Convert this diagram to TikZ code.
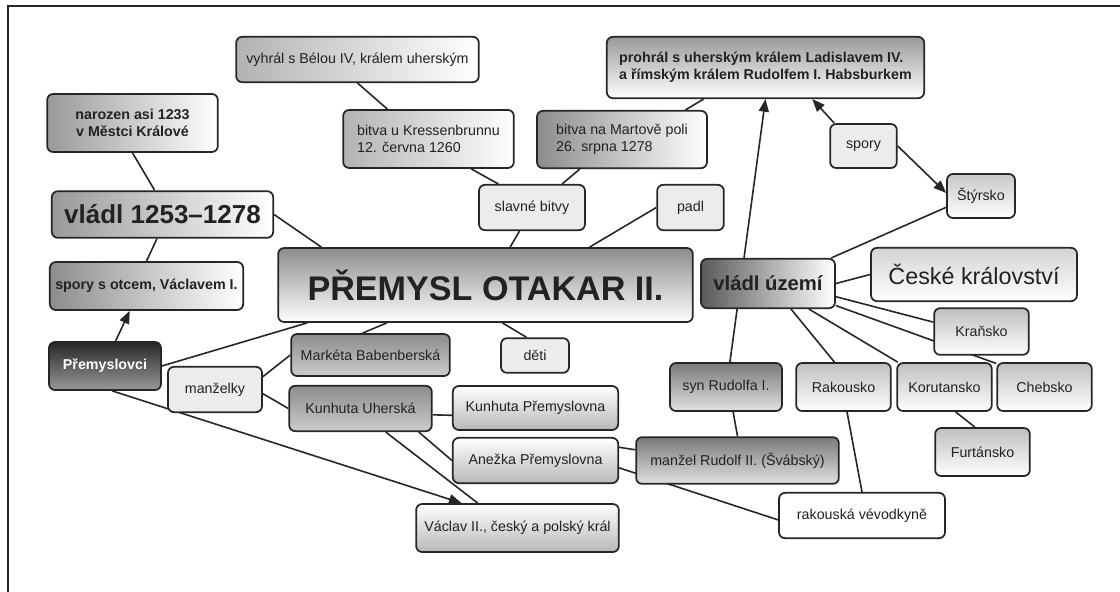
\documentclass[tikz,border=0pt]{standalone}
\usepackage{fontspec}
\setmainfont{Liberation Sans}
\usetikzlibrary{arrows.meta,backgrounds}
\definecolor{boxline}{HTML}{262626}
\definecolor{flatfill}{HTML}{ECECEC}
\definecolor{ink}{HTML}{222222}

\begin{document}
\begin{tikzpicture}[x=.75pt,y=-.75pt,
    box/.style={draw=boxline,line width=1.3pt,rounded corners=4.5pt,text=ink,inner sep=2pt,
                font=\fontsize{10.7}{12.8}\selectfont},
    flat/.style={fill=flatfill},
    lr/.style={left color=#1,right color=white},
    tb/.style={top color=#1,bottom color=white},
    bt/.style={top color=white,bottom color=#1},
    link/.style={draw=boxline,line width=1.2pt},
    arr/.style={link,-{Triangle[length=9.5pt,width=7.5pt]}}]

	\useasboundingbox (0,0) rectangle (1120,592);
	\draw[boxline,line width=1pt] (8,592) |- (1120,6);

	% left column
	\node (narozen) at (132.5,123) [box,lr=black!40,minimum width=128pt,minimum height=43.5pt,
	    align=center,font=\fontsize{10.7}{12.8}\selectfont\bfseries] {narozen asi 1233\\ v Městci Králové};
	\node (vladl) at (162.5,214.5) [box,lr=black!40,minimum width=166pt,minimum height=35pt,
	    font=\fontsize{19.5}{22}\selectfont\bfseries] {vládl 1253–1278};
	\node (sporyotec) at (146.5,286) [box,lr=black!45,minimum width=145pt,minimum height=36pt,
	    font=\fontsize{10.7}{12.8}\selectfont\bfseries] {spory s otcem, Václavem I.};
	\node (premyslovci) at (105,366) [box,top color=black!85,bottom color=black!40,text=white,
	    minimum width=84pt,minimum height=36pt,font=\fontsize{10.7}{12.8}\selectfont\bfseries] {Přemyslovci};
	\node (manzelky) at (215,389.5) [box,flat,minimum width=70.5pt,minimum height=34pt] {manželky};

	% battles
	\node (vyhral) at (357.5,59.5) [box,lr=black!30,minimum width=182pt,minimum height=34pt] {vyhrál s Bélou IV, králem uherským};
	\node (kressen) at (428.5,139) [box,lr=black!30,minimum width=128pt,minimum height=43.5pt,
	    align=left] {bitva u Kressenbrunnu\\ 12. června 1260};
	\node (marchfeld) at (622,139.5) [box,lr=black!45,minimum width=127.5pt,minimum height=43pt,
	    align=left] {bitva na Martově poli\\ 26. srpna 1278};
	\node (bitvy) at (532,207.5) [box,flat,minimum width=79.5pt,minimum height=34pt] {slavné bitvy};
	\node (padl) at (690.5,207.5) [box,flat,minimum width=50pt,minimum height=34pt] {padl};
	\node (prohral) at (765.5,67.5) [box,tb=black!40,minimum width=238pt,minimum height=46pt,align=left,
	    font=\fontsize{10.7}{12.8}\selectfont\bfseries] {prohrál s uherským králem Ladislavem IV.\\ a římským králem Rudolfem I. Habsburkem};
	\node (spory) at (863.5,146) [box,flat,minimum width=50pt,minimum height=33pt] {spory};
	\node (styrsko) at (981,196) [box,tb=black!22,minimum width=51pt,minimum height=33pt] {Štýrsko};

	% centre
	\node (premysl) at (485.5,285) [box,tb=black!45,minimum width=311pt,minimum height=55.5pt,
	    font=\fontsize{25.6}{28}\selectfont\bfseries] {PŘEMYSL OTAKAR II.};
	\node (marketa) at (370.5,355) [box,top color=black!45,bottom color=black!20,minimum width=119pt,minimum height=31.5pt] {Markéta Babenberská};
	\node (kunhutau) at (360.5,408.5) [box,top color=black!45,bottom color=black!20,minimum width=107pt,minimum height=34pt] {Kunhuta Uherská};
	\node (deti) at (535,355.5) [box,flat,minimum width=51pt,minimum height=26pt] {děti};
	\node (kunhutap) at (535.5,408) [box,bt=black!28,minimum width=124pt,minimum height=33pt] {Kunhuta Přemyslovna};
	\node (anezka) at (535.5,460.5) [box,bt=black!28,minimum width=124pt,minimum height=34pt] {Anežka Přemyslovna};
	\node (vaclav) at (517.5,528) [box,bt=black!28,minimum width=152pt,minimum height=36pt] {Václav II., český a polský král};

	% right side
	\node (uzemi) at (768,283.5) [box,lr=black!65,minimum width=100.5pt,minimum height=37pt,
	    font=\fontsize{15.2}{18}\selectfont\bfseries] {vládl území};
	\node (cesko) at (974,274.5) [box,tb=black!17,minimum width=154.5pt,minimum height=40pt,
	    font=\fontsize{17.5}{20}\selectfont] {České království};
	\node (kransko) at (981.5,331.5) [box,tb=black!25,minimum width=71pt,minimum height=35pt] {Kraňsko};
	\node (rakousko) at (843.5,387) [box,tb=black!25,minimum width=71pt,minimum height=36pt] {Rakousko};
	\node (korutansko) at (944.5,387) [box,tb=black!25,minimum width=71pt,minimum height=36pt] {Korutansko};
	\node (chebsko) at (1044.5,387) [box,tb=black!25,minimum width=71pt,minimum height=36pt] {Chebsko};
	\node (furtansko) at (982.5,452) [box,tb=black!25,minimum width=71pt,minimum height=36pt] {Furtánsko};
	\node (synrudolf) at (726,387) [box,top color=black!52,bottom color=black!12,minimum width=84pt,minimum height=36pt] {syn Rudolfa I.};
	\node (manzel) at (737.5,460.5) [box,top color=black!52,bottom color=black!12,minimum width=152pt,minimum height=35pt] {manžel Rudolf II. (Švábský)};
	\node (vevodkyne) at (862,515.5) [box,fill=white,minimum width=124.5pt,minimum height=34pt] {rakouská vévodkyně};

	\begin{scope}[on background layer]
	  \draw[link] (narozen.south) -- (vladl.108);
	  \draw[link] (vladl.east) -- (premysl.167);
	  \draw[link] (vladl.-103) -- (sporyotec.north);
	  \draw[arr] (premyslovci.67) -- (sporyotec.-124);
	  \draw[link] (premyslovci.east) -- (premysl.-168);
	  \draw[arr] (premyslovci.-74) -- (vaclav.156);
	  \draw[link] (manzelky.15) -- (marketa.west);
	  \draw[link] (manzelky.-5) -- (kunhutau.west);
	  \draw[link] (premysl.-159) -- (marketa.110);
	  \draw[link] (kunhutau.-5) -- (kunhutap.-175);
	  \draw[link] (kunhutau.-22) -- (anezka.west);
	  \draw[link] (kunhutau.-43) -- (vaclav.148);
	  \draw[link] (anezka.9) -- (manzel.174);
	  \draw[link] (anezka.-5) -- (vevodkyne.-177);
	  \draw[link] (synrudolf.-74) -- (manzel.north);
	  \draw[arr] (synrudolf.81) -- (prohral.south);
	  \draw[arr] (spory.142) -- (prohral.-34);
	  \draw[arr] (spory.east) -- (styrsko.175);
	  \draw[link] (styrsko.-162) -- (uzemi.22);
	  \draw[link] (uzemi.east) -- (cesko.west);
	  \draw[link] (uzemi.-11) -- (kransko.169);
	  \draw[link] (uzemi.-18) -- (chebsko.154);
	  \draw[link] (uzemi.-48) -- (rakousko.110);
	  \draw[link] (uzemi.-32) -- (korutansko.152);
	  \draw[link] (korutansko.-66) -- (furtansko.107);
	  \draw[link] (rakousko.-82) -- (vevodkyne.north);
	  \draw[link] (premysl.57) -- (bitvy.-118);
	  \draw[link] (premysl.20) -- (padl.west);
	  \draw[link] (bitvy.145) -- (kressen.-35);
	  \draw[link] (bitvy.38) -- (marchfeld.-145);
	  \draw[link] (kressen.144) -- (vyhral.south);
	  \draw[link] (marchfeld.25) -- (prohral.-153);
	  \draw[link] (premysl.-66) -- (deti.115);
	\end{scope}

\end{tikzpicture}
\end{document}
